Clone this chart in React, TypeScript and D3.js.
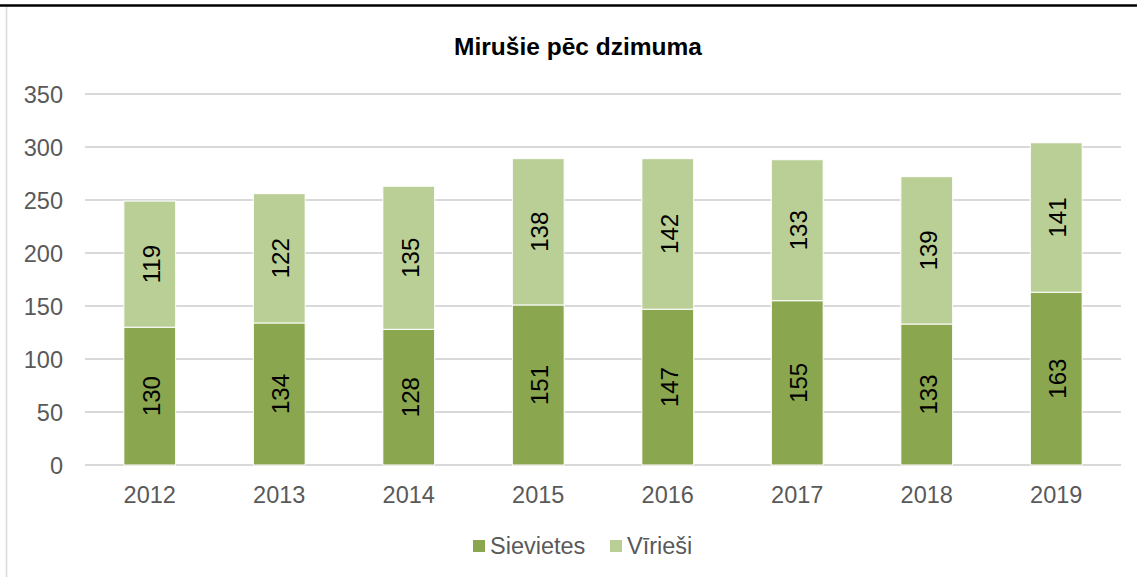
import React from "react";
import * as d3 from "d3";

const width = 1137;
const height = 577;

const years = ["2012", "2013", "2014", "2015", "2016", "2017", "2018", "2019"];
const sievietes = [130, 134, 128, 151, 147, 155, 133, 163];
const viriesi = [119, 122, 135, 138, 142, 133, 139, 141];
const yTicks = [0, 50, 100, 150, 200, 250, 300, 350];
const seriesNames = ["Sievietes", "Vīrieši"];
const colors = ["#8aa64f", "#bacf96"];

const font = "'Liberation Sans', Arial, sans-serif";

const App = () => {
  const x = d3
    .scaleBand()
    .domain(years)
    .range([85, 1121])
    .paddingInner(0.6)
    .paddingOuter(0.3);

  const y = d3.scaleLinear().domain([0, 350]).range([465, 94]);

  const rows = years.map((yr, i) => ({ year: yr, s: sievietes[i], v: viriesi[i] }));
  const stack = d3.stack().keys(["s", "v"])(rows as any);

  return (
    <svg
      width={width}
      height={height}
      style={{ position: "absolute", left: 0, top: 0, background: "#fff" }}
    >
      <rect x={0} y={0} width={width} height={height} fill="#fff" />
      {/* frame */}
      <line x1={0} x2={width} y1={5.5} y2={5.5} stroke="#000" strokeWidth={2.5} />
      <line x1={6.5} x2={6.5} y1={7} y2={height} stroke="#d9d9d9" strokeWidth={1.5} />

      <text
        x={578}
        y={55}
        textAnchor="middle"
        fontFamily={font}
        fontWeight="bold"
        fontSize={24.5}
        fill="#000"
      >
        Mirušie pēc dzimuma
      </text>

      {/* grid + y ticks */}
      {yTicks.map((t) => (
        <g key={t}>
          <line
            x1={85}
            x2={1121}
            y1={y(t)}
            y2={y(t)}
            stroke="#d9d9d9"
            strokeWidth={2}
          />
          <text
            x={63}
            y={y(t) + 8.5}
            textAnchor="end"
            fontFamily={font}
            fontSize={23.5}
            fill="#595959"
          >
            {t}
          </text>
        </g>
      ))}

      {/* bars */}
      {stack.map((layer, li) => (
        <g key={li}>
          {layer.map((d, i) => {
            const bx = x(years[i])!;
            const y0 = y(d[0]);
            const y1 = y(d[1]);
            const val = d[1] - d[0];
            const cx = bx + x.bandwidth() / 2;
            const cy = (y0 + y1) / 2;
            return (
              <g key={years[i]}>
                <rect
                  x={bx}
                  y={y1}
                  width={x.bandwidth()}
                  height={y0 - y1}
                  fill={colors[li]}
                  stroke="#fff"
                  strokeWidth={1}
                />
                <text
                  transform={`translate(${cx + 10},${cy}) rotate(-90)`}
                  textAnchor="middle"
                  fontFamily={font}
                  fontSize={24}
                  fill="#000"
                >
                  {val}
                </text>
              </g>
            );
          })}
        </g>
      ))}

      {/* x labels */}
      {years.map((yr) => (
        <text
          key={yr}
          x={x(yr)! + x.bandwidth() / 2}
          y={503}
          textAnchor="middle"
          fontFamily={font}
          fontSize={23.5}
          fill="#595959"
        >
          {yr}
        </text>
      ))}

      {/* legend */}
      {seriesNames.map((name, i) => {
        const lx = i === 0 ? 473 : 610;
        return (
          <g key={name}>
            <rect x={lx} y={540} width={12} height={12} fill={colors[i]} />
            <text
              x={lx + 17}
              y={554}
              fontFamily={font}
              fontSize={23.5}
              fill="#595959"
            >
              {name}
            </text>
          </g>
        );
      })}
    </svg>
  );
};

export default App;
